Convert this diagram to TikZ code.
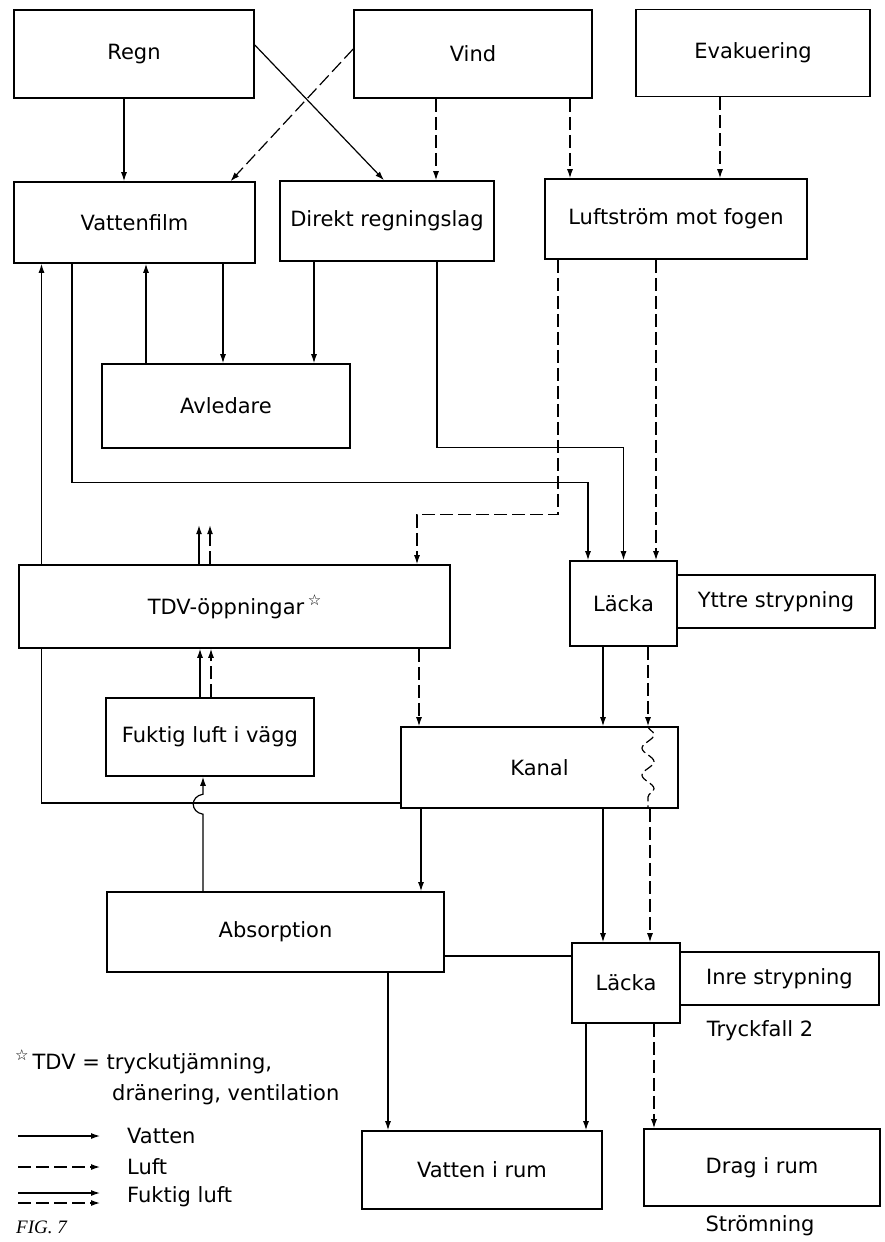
\documentclass[tikz,border=0pt]{standalone}
\usepackage{fontspec}
\setmainfont{DejaVu Sans}
\newfontfamily\figfont{Liberation Serif}
\usetikzlibrary{arrows.meta,backgrounds,decorations.pathmorphing}

\tikzset{
  blk/.style={draw, line width=1.6pt, fill=white, inner sep=0pt, align=center},
  water/.style={line width=1.2pt, -{Latex[length=9pt,width=6pt]}},
  air/.style={water, dash pattern=on 13pt off 5pt},
  lbl/.style={inner sep=0pt, anchor=west},
}
\newcommand{\tdvstar}{\raisebox{9pt}{\fontsize{15}{15}\selectfont ☆}}

\begin{document}
\begin{tikzpicture}[x=1pt, y=-1pt, font=\fontsize{21}{25}\selectfont]
\path[use as bounding box] (0,0) rectangle (885,1242);
% boxes
\node[blk, minimum width=240pt, minimum height=88pt] (regn) at (134,54) {Regn};
\node[blk, minimum width=238pt, minimum height=88pt] (vind) at (473,54) {Vind};
\node[blk, minimum width=234pt, minimum height=87pt] (evak) at (753,53) {Evakuering};
\node[blk, minimum width=241pt, minimum height=81pt] (vfilm) at (134.5,222.5) {Vattenfilm};
\node[blk, minimum width=214pt, minimum height=80pt] (direkt) at (387,221) {Direkt regningslag};
\node[blk, minimum width=262pt, minimum height=80pt] (luft) at (676,219) {Luftström mot fogen};
\node[blk, minimum width=248pt, minimum height=84pt] (avled) at (226,406) {Avledare};
\node[blk, minimum width=431pt, minimum height=83pt] (tdv) at (234.5,606.5) {TDV-öppningar\,\tdvstar};
\node[blk, minimum width=107pt, minimum height=85pt] (lacka1) at (623.5,603.5) {Läcka};
\node[blk, minimum width=198pt, minimum height=53pt] (yttre) at (776,601.5) {Yttre strypning};
\node[blk, minimum width=208pt, minimum height=78pt] (fuktig) at (210,737) {Fuktig luft i vägg};
\node[blk, minimum width=277pt, minimum height=81pt] (kanal) at (539.5,767.5) {Kanal};
\node[blk, minimum width=337pt, minimum height=80pt] (absorp) at (275.5,932) {Absorption};
\node[blk, minimum width=108pt, minimum height=80pt] (lacka2) at (626,983) {Läcka};
\node[blk, minimum width=199pt, minimum height=53pt] (inre) at (779.5,978.5) {Inre strypning};
\node[blk, minimum width=240pt, minimum height=78pt] (vrum) at (482,1170) {Vatten i rum};
\node[blk, minimum width=236pt, minimum height=77pt] (drag) at (762,1167.5) {Drag i rum};
\node[lbl, anchor=center] (tryck) at (760,1031) {Tryckfall 2};
\node[lbl, anchor=center] (stroem) at (760,1226) {Strömning};

% legend
\node[lbl] (tdvnote) at (15,1062) {\tdvstar\hspace{4pt}TDV = tryckutjämning,};
\node[lbl] (tdvnote2) at (112,1095) {dränering, ventilation};
\node[lbl] (kvatten) at (127,1136) {Vatten};
\node[lbl] (kluft) at (127,1167) {Luft};
\node[lbl] (kfuktig) at (127,1197) {Fuktig luft};
\node[lbl, anchor=south west, font=\figfont\itshape\fontsize{19}{22}\selectfont] (fig) at (16,1234) {FIG. 7};

\begin{scope}[on background layer]
\fill[white] (0,0) rectangle (885,1242);
% top row
\draw[water] ([xshift=-10pt]regn.south) -- ([xshift=-10pt]regn.south |- vfilm.north);
\draw[water] ([yshift=9pt]regn.east) -- ([xshift=-3pt]direkt.north);
\draw[air] ([yshift=5pt]vind.west) -- ([xshift=96pt]vfilm.north);
\draw[air] ([xshift=-37pt]vind.south) -- ([xshift=-37pt]vind.south |- direkt.north);
\draw[air] ([xshift=97pt]vind.south) -- ([xshift=97pt]vind.south |- luft.north);
\draw[air] ([xshift=-33pt]evak.south) -- ([xshift=-33pt]evak.south |- luft.north);
% avledare
\draw[water] ([xshift=88.5pt]vfilm.south) -- ([xshift=88.5pt]vfilm.south |- avled.north);
\draw[water] ([xshift=-73pt]direkt.south) -- ([xshift=-73pt]direkt.south |- avled.north);
\draw[water] ([xshift=-80pt]avled.north) -- ([xshift=-80pt]avled.north |- vfilm.south);
% to the outer leak
\draw[water] ([xshift=50pt]direkt.south) -- ++(0,186) -| (lacka1.north);
\draw[water] ([xshift=-62.5pt]vfilm.south) -- ++(0,219) -| ([xshift=-35.5pt]lacka1.north);
\draw[air] ([xshift=-118pt]luft.south) -- ++(0,255) -| ([xshift=182.5pt]tdv.north);
\draw[air] ([xshift=-20pt]luft.south) -- ([xshift=-20pt]luft.south |- lacka1.north);
% tdv and wall
\draw[water] ([xshift=-35.5pt]tdv.north) -- ++(0,-39);
\draw[air] ([xshift=-24.5pt]tdv.north) -- ++(0,-39);
\draw[water] ([xshift=-10pt]fuktig.north) -- ([xshift=-10pt]fuktig.north |- tdv.south);
\draw[air] ([xshift=1pt]fuktig.north) -- ([xshift=1pt]fuktig.north |- tdv.south);
\draw[air] ([xshift=184.5pt]tdv.south) -- ([xshift=184.5pt]tdv.south |- kanal.north);
\draw[water] ([yshift=-35.5pt]kanal.west) -| ([xshift=-93pt]vfilm.south);
\draw[water] ([xshift=-72.5pt]absorp.north) -- ++(0,-77) .. controls +(-13,-2) and +(-13,2) .. ++(0,-20) -- ([xshift=-7pt]fuktig.south);
% kanal
\draw[water] ([xshift=-20.5pt]lacka1.south) -- ([xshift=-20.5pt]lacka1.south |- kanal.north);
\draw[air] ([xshift=24.5pt]lacka1.south) -- ([xshift=24.5pt]lacka1.south |- kanal.north);
\draw[water] ([xshift=-118.5pt]kanal.south) -- ([xshift=-118.5pt]kanal.south |- absorp.north);
\draw[water] ([xshift=63.5pt]kanal.south) -- ([xshift=63.5pt]kanal.south |- lacka2.north);
\draw[air] ([xshift=110.5pt]kanal.south) -- ([xshift=110.5pt]kanal.south |- lacka2.north);
% bottom
\draw[line width=1.2pt] ([yshift=-24pt]absorp.east) -- ([yshift=27pt]lacka2.west);
\draw[water] ([xshift=112.5pt]absorp.south) -- ([xshift=112.5pt]absorp.south |- vrum.north);
\draw[water] ([xshift=-40pt]lacka2.south) -- ([xshift=-40pt]lacka2.south |- vrum.north);
\draw[air] ([xshift=28pt]lacka2.south) -- ([xshift=28pt]lacka2.south |- drag.north);
\end{scope}

% air wriggling through the channel
\draw[line width=1.2pt, dash pattern=on 9pt off 4pt, decorate, decoration={snake, amplitude=6pt, segment length=27pt}]
  ([xshift=108.5pt]kanal.north) -- ([xshift=108.5pt]kanal.south);

% legend arrows
\draw[water] ([xshift=-109pt]kvatten.west) -- ([xshift=-27pt]kvatten.west);
\draw[air] ([xshift=-109pt]kluft.west) -- ([xshift=-27pt]kluft.west);
\draw[water] ([xshift=-109pt,yshift=4pt]kfuktig.west) -- ([xshift=-27pt,yshift=4pt]kfuktig.west);
\draw[air] ([xshift=-109pt,yshift=-6pt]kfuktig.west) -- ([xshift=-27pt,yshift=-6pt]kfuktig.west);
\end{tikzpicture}
\end{document}
